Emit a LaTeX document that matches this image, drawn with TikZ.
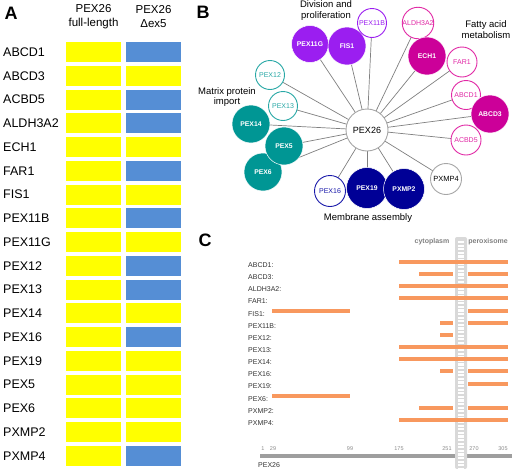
\documentclass[tikz,border=0pt]{standalone}
\usepackage{fontspec}
\setmainfont{Liberation Sans}
\definecolor{yel}{RGB}{255,255,0}
\definecolor{blu}{RGB}{85,142,213}
\definecolor{purp}{RGB}{155,30,240}
\definecolor{mag}{RGB}{204,0,153}
\definecolor{magl}{RGB}{225,40,165}
\definecolor{tealc}{RGB}{0,150,148}
\definecolor{teall}{RGB}{40,168,166}
\definecolor{navy}{RGB}{0,0,150}
\definecolor{navyl}{RGB}{25,25,170}
\definecolor{orng}{RGB}{248,152,94}
\definecolor{edgec}{RGB}{128,128,128}
\begin{document}
\begin{tikzpicture}[x=1pt,y=-1pt,
  yb/.style={fill=yel,minimum width=55pt,minimum height=20pt,inner sep=0pt},
  bb/.style={fill=blu,minimum width=55pt,minimum height=20pt,inner sep=0pt},
  alab/.style={anchor=west,inner sep=0pt,font=\fontsize{12.5}{14}\selectfont},
  hdr/.style={align=center,inner sep=0pt,font=\fontsize{11.5}{14}\selectfont},
  panel/.style={inner sep=0pt,font=\bfseries\fontsize{18}{18}\selectfont},
  fc/.style={circle,fill=#1,draw=white,line width=0.5pt,text=white,inner sep=0pt,font=\bfseries\fontsize{6.8}{8}\selectfont},
  oc/.style={circle,fill=white,draw=#1,line width=0.9pt,text=#1,inner sep=0pt,font=\fontsize{7}{8}\selectfont},
  grp/.style={align=center,inner sep=0pt,font=\fontsize{9.5}{10.5}\selectfont},
  edge/.style={draw=edgec,line width=0.7pt},
  clab/.style={anchor=west,inner sep=0pt,text=black!80,font=\fontsize{7}{8}\selectfont},
  tick/.style={inner sep=0pt,text=black!45,font=\fontsize{5.5}{6}\selectfont},
  bar/.style={draw=orng,line width=4pt},
  memb/.style={inner sep=0pt,text=black!50,font=\bfseries\fontsize{7}{8}\selectfont}
]
\useasboundingbox (0,0) rectangle (512,469);
\fill[white] (0,0) rectangle (512,469);

% ---------------- Panel A ----------------
\node[panel] (pA) at (11,13) {A};
\node[hdr] (h1) at (93.5,17) {PEX26\\full-length};
\node[hdr] (h2) at (153.5,17) {PEX26\\Δex5};
\foreach \n/\c [count=\i from 0] in {ABCD1/bb,ABCD3/yb,ACBD5/bb,ALDH3A2/bb,ECH1/yb,FAR1/bb,FIS1/yb,PEX11B/bb,PEX11G/yb,PEX12/bb,PEX13/bb,PEX14/yb,PEX16/bb,PEX19/yb,PEX5/yb,PEX6/yb,PXMP2/yb,PXMP4/bb}{
  \pgfmathsetmacro\yy{52+23.76*\i}
  \node[alab] (la\i) at (3,\yy) {\n};
  \node[yb] (ya\i) at (93.5,\yy) {};
  \node[\c] (ba\i) at (153.5,\yy) {};
}

% ---------------- Panel B ----------------
\node[panel] (pB) at (203,12) {B};
\coordinate (c26) at (367,130);
\coordinate (cPEX11G) at (310,44);
\coordinate (cFIS1) at (347,46);
\coordinate (cPEX11B) at (372,23);
\coordinate (cALDH) at (418,23);
\coordinate (cECH1) at (427,56);
\coordinate (cFAR1) at (462,62);
\coordinate (cABCD1) at (466,95);
\coordinate (cABCD3) at (490,114);
\coordinate (cACBD5) at (466,140);
\coordinate (cPXMP4) at (446,179);
\coordinate (cPXMP2) at (404,189);
\coordinate (cPEX19) at (367,188);
\coordinate (cPEX16) at (330,191);
\coordinate (cPEX6) at (263,172);
\coordinate (cPEX5) at (284,146);
\coordinate (cPEX14) at (251,124);
\coordinate (cPEX13) at (283,106);
\coordinate (cPEX12) at (270,75);

\foreach \t in {PEX11G,FIS1,PEX11B,ALDH,ECH1,FAR1,ABCD1,ABCD3,ACBD5,PXMP4,PXMP2,PEX19,PEX16,PEX6,PEX5,PEX14,PEX13,PEX12}
  \draw[edge] (c26) -- (c\t);

\node[oc=black!35,text=black,minimum size=42pt,font=\fontsize{9}{10}\selectfont] (n26) at (c26) {PEX26};

\node[fc=purp,minimum size=37pt] (nPEX11G) at (cPEX11G) {PEX11G};
\node[fc=purp,minimum size=38pt] (nFIS1) at (cFIS1) {FIS1};
\node[oc=purp,minimum size=29pt] (nPEX11B) at (cPEX11B) {PEX11B};

\node[oc=magl,minimum size=30pt] (nALDH) at (cALDH) {ALDH3A2};
\node[fc=mag,minimum size=38pt] (nECH1) at (cECH1) {ECH1};
\node[oc=magl,minimum size=30pt] (nFAR1) at (cFAR1) {FAR1};
\node[oc=magl,minimum size=29pt] (nABCD1) at (cABCD1) {ABCD1};
\node[fc=mag,minimum size=38pt] (nABCD3) at (cABCD3) {ABCD3};
\node[oc=magl,minimum size=30pt] (nACBD5) at (cACBD5) {ACBD5};

\node[oc=black!35,text=black,minimum size=31pt,font=\fontsize{7.5}{8}\selectfont] (nPXMP4) at (cPXMP4) {PXMP4};
\node[fc=navy,minimum size=41pt] (nPEX19) at (cPEX19) {PEX19};
\node[fc=navy,minimum size=41pt] (nPXMP2) at (cPXMP2) {PXMP2};
\node[oc=navyl,minimum size=31pt] (nPEX16) at (cPEX16) {PEX16};

\node[fc=tealc,minimum size=38pt] (nPEX14) at (cPEX14) {PEX14};
\node[fc=tealc,minimum size=38pt] (nPEX6) at (cPEX6) {PEX6};
\node[fc=tealc,minimum size=38pt] (nPEX5) at (cPEX5) {PEX5};
\node[oc=teall,minimum size=29pt] (nPEX13) at (cPEX13) {PEX13};
\node[oc=teall,minimum size=29pt] (nPEX12) at (cPEX12) {PEX12};

\node[grp] (gDiv) at (326,10.5) {Division and\\proliferation};
\node[grp] (gFat) at (486,29.5) {Fatty acid\\metabolism};
\node[grp] (gMat) at (227,97) {Matrix protein\\import};
\node[grp] (gMem) at (368,218) {Membrane assembly};

% ---------------- Panel C ----------------
\node[panel] (pC) at (205,240) {C};
\node[memb] (cyto) at (432,242) {cytoplasm};
\node[memb] (pero) at (488,242) {peroxisome};

% axis
\draw[draw=black!38,line width=4pt] (260,456) -- (512,456);
\node[tick] (t1) at (263,449) {1};
\node[tick] (t29) at (273,449) {29};
\node[tick] (t99) at (350,449) {99};
\node[tick] (t175) at (399,449) {175};
\node[tick] (t251) at (447,449) {251};
\node[tick] (t270) at (474,449) {270};
\node[tick] (t305) at (503,449) {305};
\node[anchor=west,inner sep=0pt,text=black!80,font=\fontsize{7}{8}\selectfont] (axl) at (258,465) {PEX26};

% membrane
\fill[black!15,rounded corners=2pt] (455,237) rectangle (467,469);
\draw[white,line width=6pt,dash pattern=on 2.2pt off 1.4pt] (461,241) -- (461,469);

\foreach \n [count=\i from 0] in {ABCD1,ABCD3,ALDH3A2,FAR1,FIS1,PEX11B,PEX12,PEX13,PEX14,PEX16,PEX19,PEX6,PXMP2,PXMP4}{
  \pgfmathsetmacro\yy{265+12.15*\i}
  \node[clab] (lc\i) at (248,\yy) {\n:};
}
\foreach \i/\a/\b in {0/399/508,1/419/453,1/468/508,2/399/508,3/399/508,4/272/350,4/468/508,5/440/453,5/468/508,6/440/453,7/399/508,8/399/508,9/440/453,9/468/508,10/468/508,11/272/350,12/419/453,12/468/508,13/399/508}{
  \pgfmathsetmacro\yy{262+12.15*\i}
  \draw[bar] (\a,\yy) -- (\b,\yy);
}
\end{tikzpicture}
\end{document}
